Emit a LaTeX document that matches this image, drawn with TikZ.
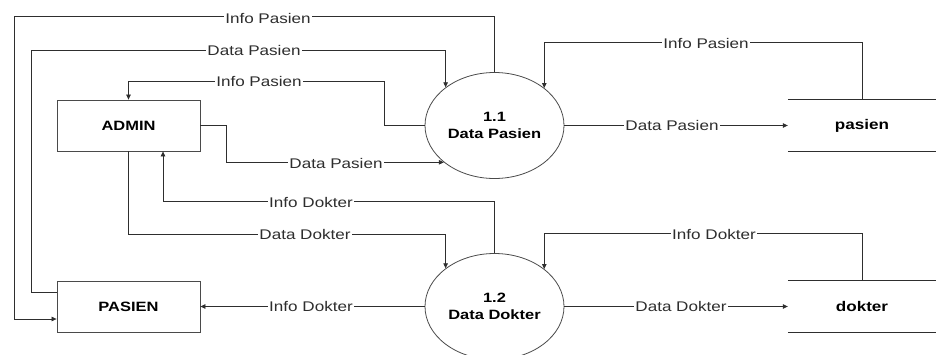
\documentclass[tikz,border=0pt]{standalone}
\usepackage{fontspec}
\setmainfont{Liberation Sans}[FakeStretch=1.22]
\usetikzlibrary{arrows.meta,shapes.geometric}

\definecolor{ink}{HTML}{2E2E2E}
\definecolor{edge}{HTML}{4A4A4A}

\tikzset{
  flow/.style={draw=ink, line width=0.75pt, -{Triangle[length=5pt,width=4.5pt]}},
  wire/.style={draw=ink, line width=0.75pt},
  entity/.style={draw=edge, line width=0.8pt, minimum width=143pt, minimum height=51pt,
    font=\fontsize{13.5}{16}\selectfont\bfseries, text=black},
  process/.style={ellipse, draw=edge, line width=0.8pt, minimum width=139pt, minimum height=106pt,
    inner sep=0pt, align=center, font=\fontsize{13.5}{17}\selectfont\bfseries, text=black},
  datastore/.style={minimum width=148pt, minimum height=51pt,
    font=\fontsize{14}{16}\selectfont\bfseries, text=black},
  flowlabel/.style={fill=white, inner sep=1.2pt, text=ink, font=\fontsize{14}{16}\selectfont},
}

\begin{document}
\begin{tikzpicture}[x=1pt, y=-1pt]
  \useasboundingbox (0,0) rectangle (936,354);
  \clip (0,0) rectangle (936,354);

  % external entities
  \node[entity] (admin) at (128.5,125.5) {ADMIN};
  \node[entity] (pasienE) at (128.5,306.5) {PASIEN};

  % processes
  \node[process] (p11) at (494.5,125.5) {1.1\\Data Pasien};
  \node[process] (p12) at (494.5,306.5) {1.2\\Data Dokter};

  % data stores (open rectangles)
  \node[datastore] (spas) at (862,125.5) {pasien};
  \node[datastore] (sdok) at (862,306.5) {dokter};
  \draw[wire] (spas.north west) -- (spas.north east);
  \draw[wire] (spas.south west) -- (spas.south east);
  \draw[wire] (sdok.north west) -- (sdok.north east);
  \draw[wire] (sdok.south west) -- (sdok.south east);

  % flows around process 1.1
  \draw[flow] (p11.north) -- ++(0,-55.5) -| (14,319) -- ([yshift=-12.5pt]pasienE.west);
  \draw[flow] ([yshift=-12pt]pasienE.north west) -| (31,50) -| (p11.142.5);
  \draw[flow] (p11.west) -- ++(-40,0) |- (128.5,81) -- (admin.north);
  \draw[flow] (admin.east) -- ++(26,0) |- (p11.216.6);
  \draw[flow] (p11.east) -- (spas.west);
  \draw[flow] (spas.north) -- ++(0,-57) -| (p11.37.5);

  % flows around process 1.2
  \draw[flow] (admin.south) -- ++(0,83) -| (p12.142.5);
  \draw[flow] (p12.north) -- ++(0,-51.5) -| ([xshift=34.5pt]admin.south);
  \draw[flow] (p12.west) -- (pasienE.east);
  \draw[flow] (p12.east) -- (sdok.west);
  \draw[flow] (sdok.north) -- ++(0,-47) -| (p12.37.5);

  % flow labels
  \node[flowlabel] (l1) at (268,18) {Info Pasien};
  \node[flowlabel] (l2) at (254,50) {Data Pasien};
  \node[flowlabel] (l3) at (259,81) {Info Pasien};
  \node[flowlabel] (l4) at (336,163) {Data Pasien};
  \node[flowlabel] (l5) at (672,125.5) {Data Pasien};
  \node[flowlabel] (l6) at (706,43) {Info Pasien};
  \node[flowlabel] (l7) at (311,202) {Info Dokter};
  \node[flowlabel] (l8) at (305,234) {Data Dokter};
  \node[flowlabel] (l9) at (311,306.5) {Info Dokter};
  \node[flowlabel] (l10) at (681,306.5) {Data Dokter};
  \node[flowlabel] (l11) at (714,234) {Info Dokter};
\end{tikzpicture}
\end{document}
